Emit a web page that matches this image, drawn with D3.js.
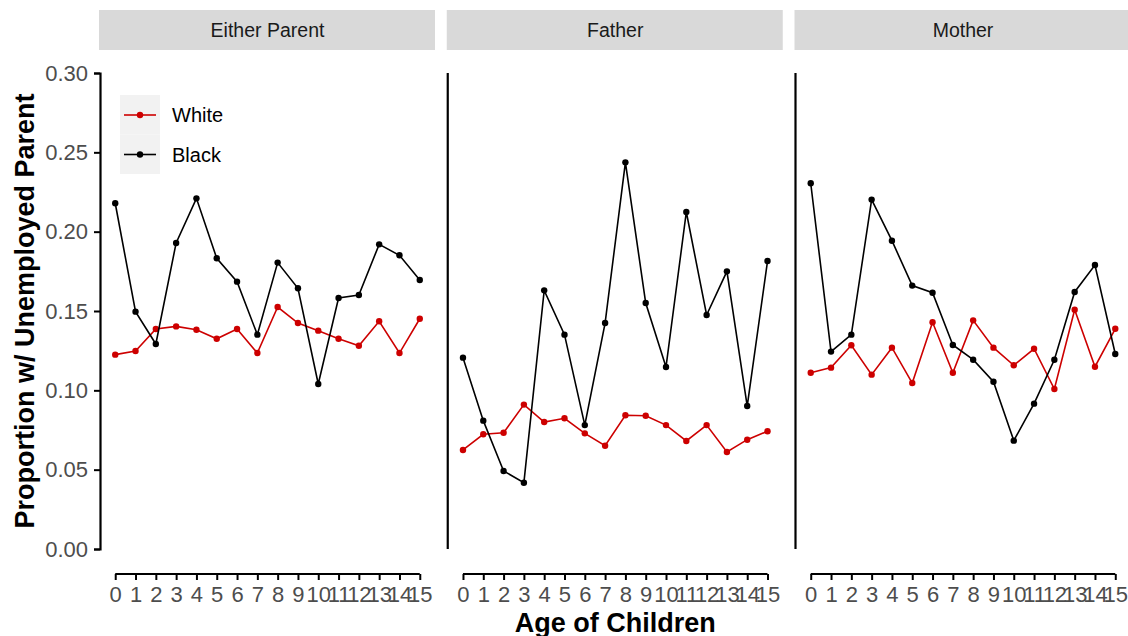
<!doctype html>
<html>
<head>
<meta charset="utf-8">
<script src="https://d3js.org/d3.v7.min.js"></script>
<style>
  body { margin: 0; background: #fff; }
  text { font-family: "Liberation Sans", Arial, sans-serif; }
</style>
</head>
<body>
<script>
// ages 0..15
var ages = d3.range(0, 16);
var facets = ["Either Parent", "Father", "Mother"];
var groups = ["White", "Black"];
var yTicks = [0, 0.05, 0.10, 0.15, 0.20, 0.25, 0.30];

// proportions
var eitherWhite = [0.1225, 0.1248, 0.1387, 0.1403, 0.1382, 0.1325, 0.1387, 0.1235, 0.1525, 0.1424, 0.1376, 0.1325, 0.1281, 0.1435, 0.1235, 0.1451];
var eitherBlack = [0.2179, 0.1496, 0.1292, 0.1929, 0.2210, 0.1832, 0.1685, 0.1351, 0.1805, 0.1643, 0.1040, 0.1582, 0.1601, 0.1920, 0.1851, 0.1695];
var fatherWhite = [0.0624, 0.0723, 0.0733, 0.0910, 0.0800, 0.0824, 0.0729, 0.0651, 0.0843, 0.0840, 0.0781, 0.0681, 0.0781, 0.0611, 0.0689, 0.0742];
var fatherBlack = [0.1206, 0.0809, 0.0492, 0.0418, 0.1630, 0.1351, 0.0781, 0.1424, 0.2437, 0.1550, 0.1147, 0.2124, 0.1475, 0.1750, 0.0901, 0.1815];
var motherWhite = [0.1111, 0.1143, 0.1284, 0.1099, 0.1269, 0.1046, 0.1429, 0.1111, 0.1441, 0.1269, 0.1158, 0.1262, 0.1008, 0.1508, 0.1149, 0.1388];
var motherBlack = [0.2305, 0.1244, 0.1351, 0.2202, 0.1943, 0.1660, 0.1615, 0.1286, 0.1193, 0.1054, 0.0683, 0.0916, 0.1193, 0.1620, 0.1790, 0.1229];

var series = {
  "Either Parent": {White: eitherWhite, Black: eitherBlack},
  "Father": {White: fatherWhite, Black: fatherBlack},
  "Mother": {White: motherWhite, Black: motherBlack}
};
var colour = d3.scaleOrdinal().domain(groups).range(["#cd0000", "#000000"]);

var W = 1128, H = 636;
var panelLeft = 100, panelStep = 347.75, panelW = 335;
var panelTop = 73, panelBottom = 549;

var svg = d3.select("body").append("svg")
    .attr("width", W)
    .attr("height", H);

var y = d3.scaleLinear().domain([0, 0.30]).range([panelBottom, panelTop]);

facets.forEach(function(f, i) {
  var left = panelLeft + i * panelStep;
  var x = d3.scaleLinear().domain([-0.75, 15.75]).range([left, left + panelW]);

  // strip
  svg.append("rect")
      .attr("x", left - 1).attr("y", 10)
      .attr("width", panelW + 1).attr("height", 40)
      .attr("fill", "#d9d9d9");
  svg.append("text")
      .attr("x", left + panelW / 2).attr("y", 37)
      .attr("text-anchor", "middle")
      .attr("font-size", "19.5px")
      .attr("fill", "#1a1a1a")
      .text(f);

  // y axis (ticks only on first panel)
  if (i === 0) {
    var ya = svg.append("g")
        .attr("transform", "translate(" + left + ",0)")
        .call(d3.axisLeft(y).tickValues(yTicks).tickFormat(d3.format(".2f")).tickSizeOuter(0).tickSize(6).tickPadding(6));
    ya.select(".domain").attr("stroke-width", 2.2);
    ya.selectAll(".tick line").attr("stroke-width", 2);
    ya.selectAll(".tick text").attr("font-size", "22px").attr("fill", "#4d4d4d")
        .attr("font-family", "Liberation Sans, Arial, sans-serif");
  } else {
    svg.append("line")
        .attr("x1", left).attr("x2", left)
        .attr("y1", y(0.30)).attr("y2", y(0))
        .attr("stroke", "#000").attr("stroke-width", 2.2);
  }

  // x axis, capped and offset below the panel
  var xa = svg.append("g")
      .attr("transform", "translate(0,574)")
      .call(d3.axisBottom(x).tickValues(ages).tickSize(6).tickSizeOuter(0).tickPadding(6));
  xa.select(".domain").attr("d", "M" + x(0) + ",0H" + x(15)).attr("stroke-width", 2.2);
  xa.selectAll(".tick line").attr("stroke-width", 2);
  xa.selectAll(".tick text").attr("font-size", "22px").attr("fill", "#4d4d4d")
      .attr("font-family", "Liberation Sans, Arial, sans-serif");

  var line = d3.line()
      .x(function(d, k) { return x(ages[k]); })
      .y(function(d) { return y(d); });

  groups.forEach(function(g) {
    var vals = series[f][g];
    svg.append("path")
        .datum(vals)
        .attr("d", line)
        .attr("fill", "none")
        .attr("stroke", colour(g))
        .attr("stroke-width", 1.6);
    svg.append("g").selectAll("circle")
        .data(vals)
      .enter().append("circle")
        .attr("cx", function(d, k) { return x(ages[k]); })
        .attr("cy", function(d) { return y(d); })
        .attr("r", 3.2)
        .attr("fill", colour(g));
  });
});

// legend
var legend = svg.append("g").attr("transform", "translate(120,95)");
groups.forEach(function(g, k) {
  var row = legend.append("g").attr("transform", "translate(0," + (k * 39.5) + ")");
  row.append("rect").attr("width", 40).attr("height", 39.5).attr("fill", "#f2f2f2");
  row.append("line").attr("x1", 4).attr("x2", 36).attr("y1", 20).attr("y2", 20)
      .attr("stroke", colour(g)).attr("stroke-width", 1.6);
  row.append("circle").attr("cx", 20).attr("cy", 20).attr("r", 3.2).attr("fill", colour(g));
  row.append("text").attr("x", 52).attr("y", 27)
      .attr("font-size", "20px").attr("fill", "#000")
      .text(g);
});

// axis titles
svg.append("text")
    .attr("x", (panelLeft + panelLeft + 2 * panelStep + panelW) / 2)
    .attr("y", 632)
    .attr("text-anchor", "middle")
    .attr("font-size", "27px")
    .attr("font-weight", "bold")
    .text("Age of Children");

svg.append("text")
    .attr("transform", "translate(34," + ((panelTop + panelBottom) / 2) + ") rotate(-90)")
    .attr("text-anchor", "middle")
    .attr("font-size", "27px")
    .attr("font-weight", "bold")
    .text("Proportion w/ Unemployed Parent");
</script>
</body>
</html>
